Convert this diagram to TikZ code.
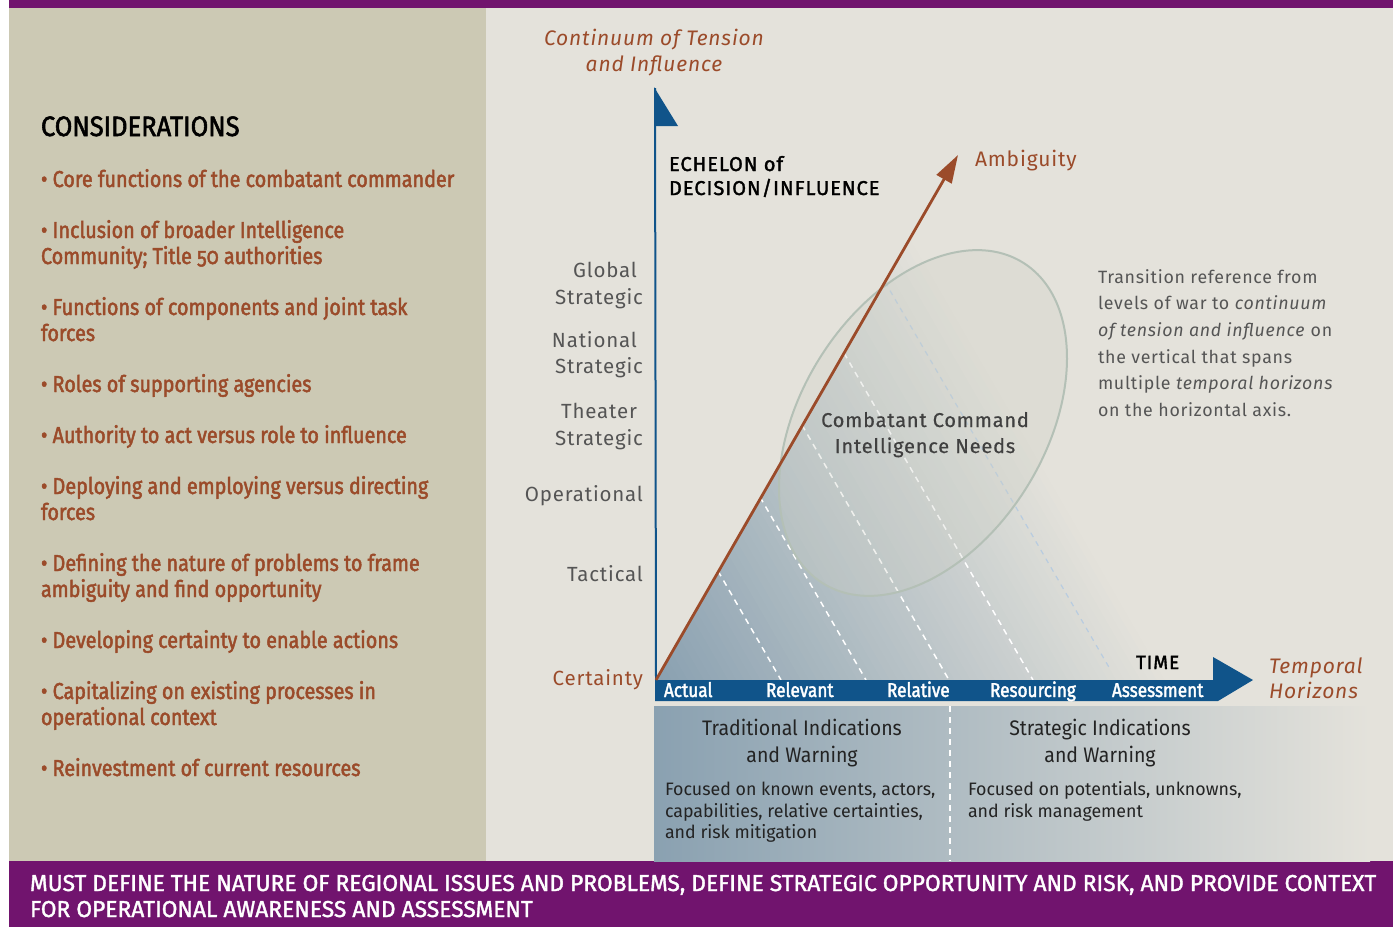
\documentclass[tikz,border=0pt]{standalone}
\usepackage{fontspec}
\setmainfont{Fira Sans}
\newfontfamily\fhead{Fira Sans}[FakeStretch=0.93]
\newfontfamily\fbody{Fira Sans}[FakeStretch=0.99]
\newfontfamily\fmed{Fira Sans}[FakeStretch=0.86,FakeBold=2,Numbers=OldStyle]
\newfontfamily\fcons{Fira Sans}[FakeStretch=0.91,FakeBold=2]
\newfontfamily\fmust{Fira Sans}[FakeStretch=0.99,FakeBold=1.6]
\newfontfamily\fwide{Fira Sans}[LetterSpace=4]
\newfontfamily\fwidem{Fira Sans}[LetterSpace=4,FakeBold=0.6]
\newfontfamily\fwideb{Fira Sans}[LetterSpace=5,FakeBold=1.8]
\usetikzlibrary{arrows.meta}
\definecolor{purp}{RGB}{113,20,110}
\definecolor{panel}{RGB}{204,201,180}
\definecolor{bg}{RGB}{228,226,219}
\definecolor{rust}{RGB}{155,75,42}
\definecolor{navy}{RGB}{16,84,138}
\definecolor{lvl}{RGB}{85,85,85}
\definecolor{gdark}{RGB}{138,161,177}
\definecolor{ell}{RGB}{180,192,182}
\definecolor{ellfill}{RGB}{205,208,198}
\definecolor{dk}{RGB}{35,35,35}
\definecolor{ltblue}{RGB}{184,204,224}
\tikzset{
  lft/.style={anchor=base west, inner sep=0pt, outer sep=0pt},
  rgt/.style={anchor=base east, inner sep=0pt, outer sep=0pt},
  ctr/.style={anchor=base, inner sep=0pt, outer sep=0pt},
  bul/.style={lft, text=rust, font=\fmed\fontsize{23}{26}\selectfont},
  lvltxt/.style={rgt, text=lvl, font=\fwide\fontsize{20.5}{26}\selectfont},
  rusttxt/.style={text=rust, font=\fwide\itshape\fontsize{21}{26}\selectfont},
  sidetxt/.style={lft, text=lvl, font=\fwide\fontsize{17.8}{26}\selectfont},
  bartxt/.style={lft, text=white, font=\fmed\fontsize{20}{20}\selectfont},
  headtxt/.style={ctr, text=dk, font=\fhead\fontsize{21}{26}\selectfont},
  bodytxt/.style={lft, text=dk, font=\fbody\fontsize{18}{22}\selectfont},
  dashln/.style={white, line width=1.5pt, dash pattern=on 6pt off 5pt},
  mustxt/.style={lft, text=white, font=\fmust\fontsize{23}{26}\selectfont}
}
\begin{document}
\begin{tikzpicture}[x=1pt,y=-1pt]
\useasboundingbox (0,0) rectangle (1393,927);
% backgrounds
\fill[white] (0,0) rectangle (1393,927);
\fill[purp] (9,0) rectangle (1393,8);
\fill[panel] (9,8) rectangle (486,861);
\fill[bg] (486,8) rectangle (1393,861);
\fill[purp] (9,861) rectangle (1393,927);

% left panel
\node[lft, font=\fcons\fontsize{28}{28}\selectfont, text=black] (cons) at (41,136) {CONSIDERATIONS};
\node[bul] (b1) at (41,187) {• Core functions of the combatant commander};
\node[bul] (b2a) at (41,238) {• Inclusion of broader Intelligence};
\node[bul] (b2b) at (41,264) {Community; Title 50 authorities};
\node[bul] (b3a) at (41,315) {• Functions of components and joint task};
\node[bul] (b3b) at (41,341) {forces};
\node[bul] (b4) at (41,392) {• Roles of supporting agencies};
\node[bul] (b5) at (41,443) {• Authority to act versus role to influence};
\node[bul] (b6a) at (41,494) {• Deploying and employing versus directing};
\node[bul] (b6b) at (41,520) {forces};
\node[bul] (b7a) at (41,571) {• Defining the nature of problems to frame};
\node[bul] (b7b) at (41,597) {ambiguity and find opportunity};
\node[bul] (b8) at (41,648) {• Developing certainty to enable actions};
\node[bul] (b9a) at (41,699) {• Capitalizing on existing processes in};
\node[bul] (b9b) at (41,725) {operational context};
\node[bul] (b10) at (41,776) {• Reinvestment of current resources};

% bottom band
\node[mustxt] (m1) at (30,891) {MUST DEFINE THE NATURE OF REGIONAL ISSUES AND PROBLEMS, DEFINE STRATEGIC OPPORTUNITY AND RISK, AND PROVIDE CONTEXT};
\node[mustxt] (m2) at (30,917) {FOR OPERATIONAL AWARENESS AND ASSESSMENT};

% key coordinates
\coordinate (O) at (656,680);
\coordinate (amb) at (958,155);
\coordinate (ytop) at (655,88);
\coordinate (wtop) at (930,203);
\coordinate (wr) at (1250,680);

% shaded wedge (gradient toward upper right)
\begin{scope}
  \clip (O) -- (wtop) -- (wr) -- cycle;
  \begin{scope}[shift={(O)}, rotate=30]
    \foreach \i in {0,...,63} {
      \pgfmathsetmacro\pc{100*(1-\i/63)}
      \fill[gdark!\pc!bg] (\i*7-0.6, -900) rectangle (\i*7+7, 900);
    }
  \end{scope}
\end{scope}
% lower panel
\fill[left color=gdark, right color=bg] (654,706) rectangle (1370,861);

% dashed lines
\coordinate (d1a) at (718,571); \coordinate (d1b) at (781,680);
\coordinate (d2a) at (760,497); \coordinate (d2b) at (866,680);
\coordinate (d3a) at (802,425); \coordinate (d3b) at (949,680);
\coordinate (d4a) at (844,353); \coordinate (d4b) at (1033,680);
\coordinate (d5a) at (885,282); \coordinate (d5b) at (1110,669);
\coordinate (dva) at (950,706); \coordinate (dvb) at (950,861);
\draw[dashln] (d1a) -- (d1b);
\draw[dashln] (d2a) -- (d2b);
\draw[dashln] (d3a) -- (d3b);
\draw[dashln] (d4a) -- (d4b);
\draw[ltblue, line width=1.2pt, dash pattern=on 5pt off 5pt] (d5a) -- (d5b);
\draw[dashln] (dva) -- (dvb);

% ellipse
\draw[draw=ell, line width=2pt, fill=ellfill, fill opacity=0.3, rotate around={58:(923,423)}] (923,423) ellipse [x radius=189, y radius=122];
\node[ctr, text=black!75, font=\fwidem\fontsize{20}{26}\selectfont] (cc1) at (925,427) {Combatant Command};
\node[ctr, text=black!75, font=\fwidem\fontsize{20}{26}\selectfont] (cc2) at (925,453) {Intelligence Needs};

% vertical axis
\draw[navy, line width=2pt] (O) -- (ytop);
\fill[navy] (654,87) -- (678,126) -- (654,126) -- cycle;

% time bar
\fill[navy] (655,680) -- (1213,680) -- (1213,657) -- (1253,680) -- (1218,701) -- (655,701) -- cycle;
\node[bartxt] (t1) at (664,697) {Actual};
\node[bartxt] (t2) at (766,697) {Relevant};
\node[bartxt] (t3) at (887,697) {Relative};
\node[bartxt] (t4) at (990,697) {Resourcing};
\node[bartxt] (t5) at (1112,697) {Assessment};
\node[lft, text=black, font=\fwideb\fontsize{19}{19}\selectfont] (time) at (1136,669) {TIME};
\node[lft, rusttxt] (th1) at (1269,673) {Temporal};
\node[lft, rusttxt] (th2) at (1269,698) {Horizons};

% ambiguity arrow
\draw[rust, line width=2.8pt, -{Triangle[length=28pt,width=17pt]}] (O) -- (amb);
\node[lft, text=rust, font=\fwide\fontsize{21}{26}\selectfont] (ambl) at (975,166) {Ambiguity};

% axis titles
\node[ctr, rusttxt] (ct1) at (654,45) {Continuum of Tension};
\node[ctr, rusttxt] (ct2) at (654,71) {and Influence};
\node[lft, text=black, font=\fwideb\fontsize{20}{26}\selectfont] (e1) at (669,171) {ECHELON of};
\node[lft, text=black, font=\fwideb\fontsize{20}{26}\selectfont] (e2) at (669,195) {DECISION/INFLUENCE};

% level labels
\node[lvltxt] (l1) at (637,277) {Global};
\node[lvltxt] (l2) at (643,304) {Strategic};
\node[lvltxt] (l3) at (637,347) {National};
\node[lvltxt] (l4) at (643,373) {Strategic};
\node[lvltxt] (l5) at (637,418) {Theater};
\node[lvltxt] (l6) at (643,445) {Strategic};
\node[lvltxt] (l7) at (643,501) {Operational};
\node[lvltxt] (l8) at (643,581) {Tactical};
\node[lvltxt, text=rust] (l9) at (643,685) {Certainty};

% side note
\node[sidetxt] (s1) at (1098,283) {Transition reference from};
\node[sidetxt] (s2) at (1098,309) {levels of war to \textit{continuum}};
\node[sidetxt] (s3) at (1098,336) {\textit{of tension and influence} on};
\node[sidetxt] (s4) at (1098,363) {the vertical that spans};
\node[sidetxt] (s5) at (1098,389) {multiple \textit{temporal horizons}};
\node[sidetxt] (s6) at (1098,416) {on the horizontal axis.};

% lower panel text
\node[headtxt] (h1) at (802,735) {Traditional Indications};
\node[headtxt] (h2) at (802,762) {and Warning};
\node[bodytxt] (p1) at (665,795) {Focused on known events, actors,};
\node[bodytxt] (p2) at (665,817) {capabilities, relative certainties,};
\node[bodytxt] (p3) at (665,838) {and risk mitigation};
\node[headtxt] (h3) at (1100,735) {Strategic Indications};
\node[headtxt] (h4) at (1100,762) {and Warning};
\node[bodytxt] (q1) at (968,795) {Focused on potentials, unknowns,};
\node[bodytxt] (q2) at (968,817) {and risk management};
\end{tikzpicture}
\end{document}
